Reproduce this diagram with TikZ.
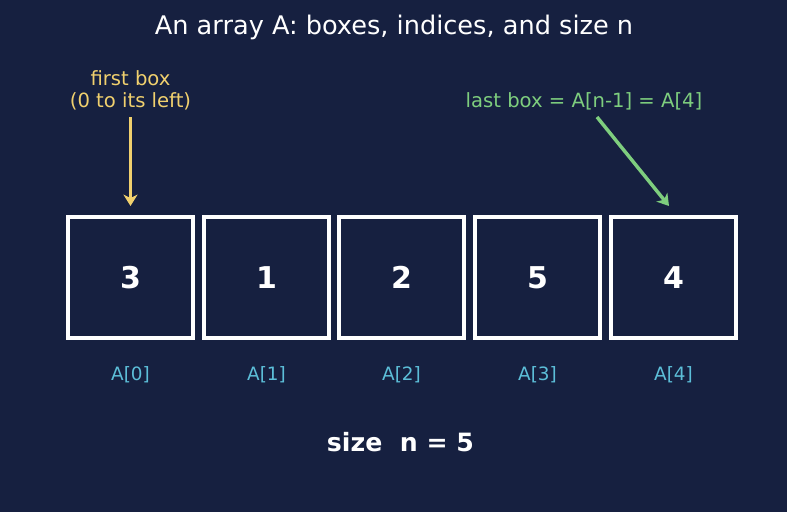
\documentclass[tikz,border=0pt]{standalone}
\usepackage{fontspec}
\setmainfont{DejaVu Sans}
\usetikzlibrary{arrows.meta}
\definecolor{bg}{RGB}{22,32,64}
\definecolor{yel}{RGB}{240,208,110}
\definecolor{grn}{RGB}{126,206,126}
\definecolor{cyn}{RGB}{92,190,216}
\tikzset{
  cell/.style={draw=white, line width=2.5pt, minimum width=93.75pt, minimum height=90.75pt, inner sep=0pt, text=white, font=\fontsize{22.5}{24}\selectfont\bfseries},
  idx/.style={text=cyn, font=\fontsize{13.8}{16}\selectfont},
  arr/.style={line width=2.6pt, -{Stealth[length=8.5pt,width=10.5pt,inset=2.5pt]}},
}
\begin{document}
\begin{tikzpicture}[x=0.75pt,y=-0.75pt]
\fill[bg] (0,0) rectangle (787,512);
\useasboundingbox (0,0) rectangle (787,512);
\node[text=white, font=\fontsize{19.2}{22}\selectfont] (title) at (394,27) {An array A: boxes, indices, and size n};
\node[cell] (c0) at (130.5,277.5) {3};
\node[cell] (c1) at (266.5,277.5) {1};
\node[cell] (c2) at (401.5,277.5) {2};
\node[cell] (c3) at (537.5,277.5) {5};
\node[cell] (c4) at (673.5,277.5) {4};
\node[idx] (i0) at (130.5,375) {A[0]};
\node[idx] (i1) at (266.5,375) {A[1]};
\node[idx] (i2) at (401.5,375) {A[2]};
\node[idx] (i3) at (537.5,375) {A[3]};
\node[idx] (i4) at (673.5,375) {A[4]};
\node[text=yel, font=\fontsize{14.7}{16.5}\selectfont, align=center] (first) at (130.5,90) {first box\\(0 to its left)};
\node[text=grn, font=\fontsize{14.7}{16}\selectfont] (last) at (584,101) {last box = A[n-1] = A[4]};
\coordinate (fs) at (130.5,117);
\coordinate (fe) at (130.5,206);
\coordinate (ls) at (597,117);
\coordinate (le) at (669,206);
\draw[arr, yel] (fs) -- (fe);
\draw[arr, grn] (ls) -- (le);
\node[text=white, font=\fontsize{18.9}{20}\selectfont\bfseries] (size) at (400.5,442) {size\ \ n = 5};
\end{tikzpicture}
\end{document}
